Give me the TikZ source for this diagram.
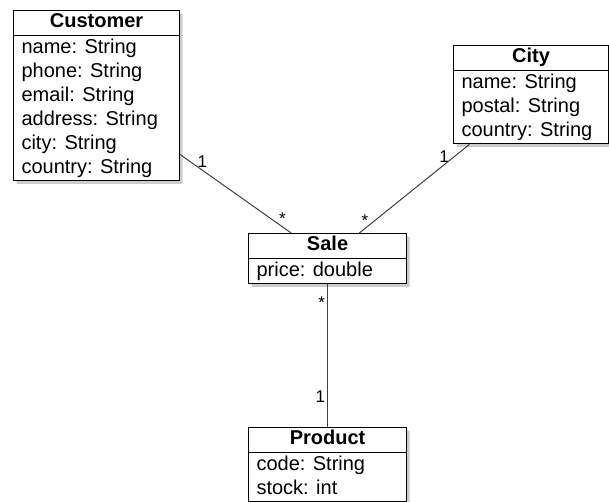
\documentclass[tikz,border=0pt]{standalone}
\usepackage{fontspec}
\setmainfont{Liberation Sans}
\usetikzlibrary{shapes.multipart,shadows}

\begin{document}
\begin{tikzpicture}[
        x=1pt, y=-1pt,
        cls/.style={rectangle split, rectangle split parts=2, draw, fill=white,
                    line width=1.1pt, align=left, inner xsep=8pt, inner ysep=0pt,
                    rectangle split part align={center,left},
                    font=\fontsize{20}{24}\selectfont, anchor=north west,
                    drop shadow={shadow xshift=3pt, shadow yshift=-3pt, fill=black!40}},
        assoc/.style={draw=black!75, line width=1pt},
        mult/.style={font=\fontsize{17}{20}\selectfont, inner sep=2pt}
    ]
        \useasboundingbox (0,0) rectangle (609,501);

        \node[cls, minimum width=166pt] (cust) at (13,10)
            {\strut\textbf{Customer}\nodepart{second}\strut name: String\\\strut phone: String\\\strut email: String\\\strut address: String\\\strut city: String\\\strut country: String};
        \node[cls, minimum width=155pt] (city) at (453,45)
            {\strut\textbf{City}\nodepart{second}\strut name: String\\\strut postal: String\\\strut country: String};
        \node[cls, minimum width=158pt] (sale) at (248,233)
            {\strut\textbf{Sale}\nodepart{second}\strut price: double};
        \node[cls, minimum width=158pt] (prod) at (248,427)
            {\strut\textbf{Product}\nodepart{second}\strut code: String\\\strut stock: int};

        \draw[assoc] (cust) -- node[mult, pos=0.2, above] {1} node[mult, pos=0.92, above] {*} (sale);
        \draw[assoc] (city) -- node[mult, pos=0.23, above] {1} node[mult, pos=0.95, above] {*} (sale);
        \draw[assoc] (sale) -- node[mult, pos=0.13, left] {*} node[mult, pos=0.79, left] {1} (prod);
    \end{tikzpicture}
\end{document}
